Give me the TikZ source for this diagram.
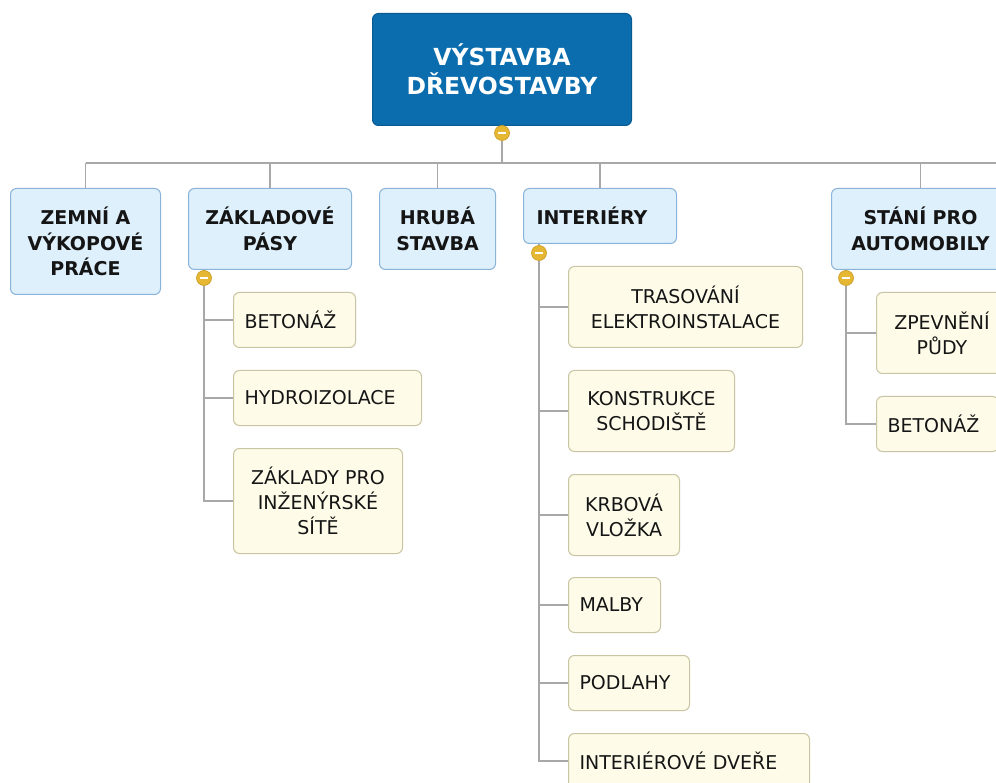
\documentclass[tikz,border=0pt]{standalone}
\usepackage{fontspec}
\setmainfont{DejaVu Sans}
\usetikzlibrary{positioning}
\pgfdeclarelayer{bg}
\pgfsetlayers{bg,main}

\definecolor{rootfill}{HTML}{0B6DAE}
\definecolor{rootline}{HTML}{0A5A92}
\definecolor{topfill}{HTML}{DEF0FC}
\definecolor{topline}{HTML}{8CB3D9}
\definecolor{subfill}{HTML}{FEFCE9}
\definecolor{subline}{HTML}{C9C4A2}
\definecolor{wire}{HTML}{A8A8A8}
\definecolor{knob}{HTML}{E5B733}
\definecolor{knobline}{HTML}{C99A1E}
\definecolor{ink}{HTML}{151515}

\tikzset{
  rootbox/.style={draw=rootline, fill=rootfill, rounded corners=6pt, line width=1pt,
    text=white, font=\fontsize{23.5}{29}\selectfont\bfseries, align=center,
    inner sep=0pt, anchor=north west},
  topbox/.style={draw=topline, fill=topfill, rounded corners=6pt, line width=1pt,
    text=ink, font=\fontsize{19}{25.5}\selectfont\bfseries, align=center,
    inner xsep=13pt, inner ysep=0pt, anchor=north west},
  subbox/.style={draw=subline, fill=subfill, rounded corners=6pt, line width=1pt,
    text=ink, font=\fontsize{19}{25}\selectfont, align=center,
    inner xsep=11pt, inner ysep=0pt, anchor=north west},
  leftset/.style={align=left},
  wireline/.style={draw=wire, line width=1.5pt},
  knobdot/.style={circle, minimum size=15pt, inner sep=0pt, fill=knob, draw=knobline,
    line width=0.6pt,
    path picture={\draw[white, line width=2pt]
      ([xshift=-3.8pt]path picture bounding box.center) --
      ([xshift=3.8pt]path picture bounding box.center);}},
}

\begin{document}
\begin{tikzpicture}[x=1pt, y=1pt]
\useasboundingbox (0,0) rectangle (996,-783);
\clip (0,0) rectangle (996,-783);

% central topic
\node[rootbox, minimum width=259pt, minimum height=112pt] (root) at (372,-13)
  {VÝSTAVBA\\DŘEVOSTAVBY};
\node[knobdot] (k0) at (502,-133) {};

% main branches
\node[topbox, text width=124pt, minimum height=106pt] (t1) at (10,-188)
  {ZEMNÍ A\\VÝKOPOVÉ\\PRÁCE};
\node[topbox, text width=137pt, minimum height=81pt] (t2) at (188,-188)
  {ZÁKLADOVÉ\\PÁSY};
\node[topbox, text width=90pt, minimum height=81pt] (t3) at (379,-188)
  {HRUBÁ\\STAVBA};
\node[topbox, leftset, text width=127pt, minimum height=55pt] (t4) at (523,-188)
  {INTERIÉRY};
\node[topbox, text width=152pt, minimum height=81pt] (t5) at (831,-188)
  {STÁNÍ PRO\\AUTOMOBILY};

\node[knobdot] (k2) at (204,-278) {};
\node[knobdot] (k4) at (539,-253) {};
\node[knobdot] (k5) at (846,-278) {};

% foundations
\node[subbox, leftset, text width=100pt, minimum height=55pt] (s21) at (233,-292) {BETONÁŽ};
\node[subbox, leftset, text width=166pt, minimum height=55pt] (s22) at (233,-370) {HYDROIZOLACE};
\node[subbox, text width=147pt, minimum height=105pt] (s23) at (233,-448)
  {ZÁKLADY PRO\\INŽENÝRSKÉ\\SÍTĚ};

% interiors
\node[subbox, text width=212pt, minimum height=81pt] (s41) at (568,-266)
  {TRASOVÁNÍ\\ELEKTROINSTALACE};
\node[subbox, text width=144pt, minimum height=81pt] (s42) at (568,-370)
  {KONSTRUKCE\\SCHODIŠTĚ};
\node[subbox, text width=89pt, minimum height=81pt] (s43) at (568,-474)
  {KRBOVÁ\\VLOŽKA};
\node[subbox, leftset, text width=70pt, minimum height=55pt] (s44) at (568,-577) {MALBY};
\node[subbox, leftset, text width=99pt, minimum height=55pt] (s45) at (568,-655) {PODLAHY};
\node[subbox, leftset, text width=219pt, minimum height=55pt] (s46) at (568,-733) {INTERIÉROVÉ DVEŘE};

% parking
\node[subbox, text width=109pt, minimum height=81pt] (s51) at (876,-292)
  {ZPEVNĚNÍ\\PŮDY};
\node[subbox, leftset, text width=100pt, minimum height=55pt] (s52) at (876,-396) {BETONÁŽ};

% connectors, beneath the boxes
\coordinate (bus) at (502,-163);
\coordinate (busend) at (996,-163);
\begin{pgfonlayer}{bg}
  \fill[white] (0,0) rectangle (996,-783);
  \draw[wireline] (root.south) -- (k0.north);
  \draw[wireline] (k0.south) -- (bus);
  \draw[wireline] (t1.north |- bus) -- (busend);
  \foreach \t in {t1,t2,t3,t4,t5}
    \draw[wireline] (\t.north) -- (\t.north |- bus);

  \draw[wireline] (t2.south -| k2) -- (k2.north);
  \draw[wireline] (t4.south -| k4) -- (k4.north);
  \draw[wireline] (t5.south -| k5) -- (k5.north);

  \foreach \s in {s21,s22,s23}
    \draw[wireline] (k2.south) |- (\s.west);
  \foreach \s in {s41,s42,s43,s44,s45,s46}
    \draw[wireline] (k4.south) |- (\s.west);
  \foreach \s in {s51,s52}
    \draw[wireline] (k5.south) |- (\s.west);
\end{pgfonlayer}
\end{tikzpicture}
\end{document}
